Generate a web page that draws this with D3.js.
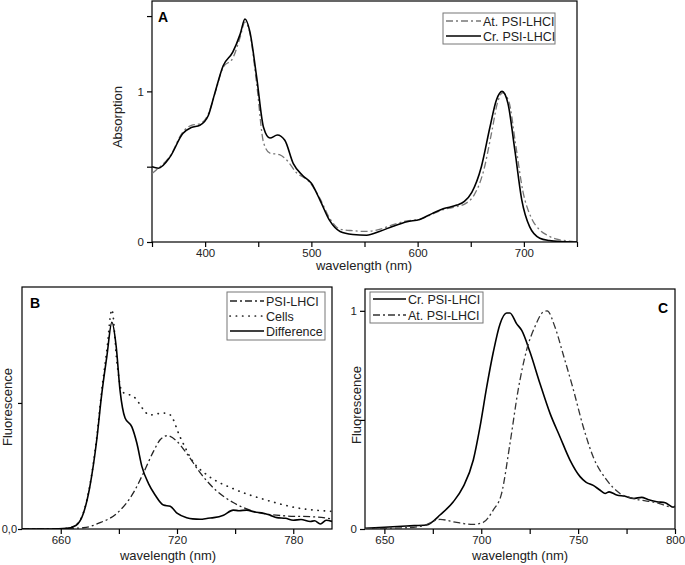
<!DOCTYPE html>
<html><head><meta charset="utf-8">
<script src="https://cdn.jsdelivr.net/npm/d3@7"></script>
<style>body{margin:0;background:#fff}svg{display:block;font-family:"Liberation Sans",Arial,sans-serif}</style>
</head><body><svg id="c" width="685" height="565"></svg>
<script>
// ---------- Panel A data (absorption) ----------
const aCrWl  = [350,356,367,379,387,395,403,409,417,426,433,437.5,442,448.5,455,461,468,475,483,492,500,508,517,527,539,552,564,577,590,602,614,624,637,644,651,660,668,674,679.5,685,691.5,698,705.5,715,724,735,750];
const aCrAbs = [0.50,0.49,0.565,0.72,0.76,0.775,0.84,0.985,1.17,1.26,1.38,1.48,1.40,1.095,0.76,0.69,0.71,0.675,0.52,0.44,0.39,0.28,0.145,0.07,0.05,0.045,0.07,0.105,0.135,0.15,0.19,0.22,0.245,0.27,0.33,0.50,0.76,0.94,1.00,0.92,0.61,0.28,0.10,0.025,0.01,0.003,0.0];
const aAtWl  = [350,356,367,379,387,395,403,409,417,426,433,437.5,442,448.5,455,461,470,476,486,498,508,517,527,539,552,567,577,590,602,614,624,637,645,653,662,670,675,680,686,692,699,707,715,722,730,740,750];
const aAtAbs = [0.455,0.49,0.57,0.73,0.775,0.785,0.85,0.98,1.16,1.22,1.36,1.46,1.39,1.05,0.66,0.59,0.58,0.55,0.46,0.40,0.29,0.16,0.085,0.075,0.07,0.09,0.115,0.14,0.15,0.185,0.215,0.235,0.255,0.31,0.47,0.74,0.92,0.99,0.93,0.66,0.34,0.16,0.08,0.045,0.02,0.008,0.0];
const aXTicks = [400,500,600,700];
const aXMinor = [350,450,550,650,750];
const aYTicks = [0,1];
const aYMinor = [0.5,1.5];

// ---------- Panel B data (fluorescence) ----------
const bDiffWl = [640,655,663,668,671.7,675,678.6,681,683.8,686.4,688.6,690.6,693.2,696.7,699.3,701.9,705.3,708.7,713,716.5,720,725,728,732,736,739,744,749,752,756,760,764.7,768,771.6,776,780,784,788.8,791,794,797,800];
const bDiff   = [0,0,0.005,0.03,0.125,0.335,0.71,1.05,1.37,1.64,1.45,1.10,0.88,0.81,0.68,0.495,0.36,0.27,0.19,0.18,0.125,0.09,0.08,0.077,0.085,0.09,0.11,0.15,0.145,0.15,0.135,0.125,0.11,0.09,0.085,0.07,0.075,0.06,0.065,0.04,0.07,0.06];
const bCellWl = [640,655,663,668,671.7,675,678.6,681,683.8,686.4,689,691.6,697.6,706,713,716.5,721.6,728.5,735.4,749,766,783,800];
const bCells  = [0,0,0.005,0.035,0.13,0.345,0.73,1.08,1.42,1.74,1.32,1.09,1.05,0.905,0.92,0.905,0.73,0.53,0.43,0.32,0.23,0.165,0.14];
const bPsiWl  = [640,650,662,671.7,680.3,689,697.6,702.7,708,711.4,714.9,720,725,732,740.6,749,759.6,775,792,800];
const bPsi    = [0,0,0.003,0.01,0.05,0.125,0.29,0.445,0.62,0.71,0.74,0.695,0.60,0.445,0.30,0.21,0.14,0.105,0.095,0.08];
const bXTicks = [660,720,780];
const bXMinor = [690,750];
const bYTicks = [0,1];
const bYLabels = ["0,0",""];

// ---------- Panel C data (normalised fluorescence) ----------
const cCrWl = [640,650,661.5,671.8,674.4,678.7,685.6,690.7,695.9,699.4,702.8,706.2,709.7,713.1,714.8,718.3,720.9,725.2,730.3,735.5,740.6,745.8,751,754,757.8,761,763.9,766,769.9,774,778.5,782.8,786,790.6,795,799,800];
const cCr   = [0.003,0.008,0.014,0.018,0.03,0.064,0.125,0.194,0.316,0.47,0.65,0.81,0.94,0.99,0.99,0.94,0.91,0.81,0.667,0.53,0.423,0.316,0.24,0.215,0.20,0.18,0.163,0.17,0.156,0.15,0.14,0.145,0.135,0.125,0.12,0.10,0.105];
const cAtWl = [640,660,670,678.7,687.3,695.9,701,706.2,710.5,714.8,719.1,723.4,727.7,732,734,738,742.3,747.5,752.6,757.8,764.7,771.6,778.5,790.6,799,800];
const cAt   = [0.002,0.005,0.015,0.044,0.03,0.021,0.03,0.087,0.163,0.39,0.64,0.82,0.927,0.995,1.0,0.927,0.80,0.64,0.47,0.33,0.225,0.163,0.14,0.12,0.10,0.10];
const cXTicks = [650,700,750,800];
const cXMinor = [675,725,775];
const cYTicks = [0,1];
const cYMinor = [0.5];

const svg = d3.select("#c");
const FONT = 11.5;

function panel(o){
  const g = svg.append("g");
  const x = d3.scaleLinear().domain(o.xd).range([o.l,o.r]);
  const y = d3.scaleLinear().domain(o.yd).range([o.b,o.t]);
  g.append("rect").attr("x",o.l).attr("y",o.t).attr("width",o.r-o.l).attr("height",o.b-o.t)
    .attr("fill","none").attr("stroke","#000").attr("stroke-width",1.2);
  const xa = g.append("g").attr("transform",`translate(0,${o.b})`)
    .call(d3.axisBottom(x).tickValues(o.xt).tickSize(5).tickPadding(2).tickFormat(d3.format("d")));
  xa.select(".domain").remove();
  xa.selectAll("text").attr("font-size",FONT).attr("font-family","Liberation Sans, Arial, sans-serif").attr("fill","#222");
  xa.selectAll("line").attr("stroke-width",1.2);
  const xm = g.append("g").attr("transform",`translate(0,${o.b})`)
    .call(d3.axisBottom(x).tickValues(o.xm).tickSize(5).tickFormat(""));
  xm.select(".domain").remove(); xm.selectAll("line").attr("stroke-width",1.2);
  const ya = g.append("g").attr("transform",`translate(${o.l},0)`)
    .call(d3.axisLeft(y).tickValues(o.yt).tickSize(o.yts||5).tickPadding(o.ytp||3).tickFormat((d,i)=>o.yl?o.yl[i]:d3.format("d")(d)));
  ya.select(".domain").remove();
  ya.selectAll("text").attr("font-size",o.yfs||FONT).attr("font-family","Liberation Sans, Arial, sans-serif").attr("fill","#222");
  ya.selectAll("line").attr("stroke-width",1.2);
  if(o.ym){
    const ymn = g.append("g").attr("transform",`translate(${o.l},0)`)
      .call(d3.axisLeft(y).tickValues(o.ym).tickSize(5).tickFormat(""));
    ymn.select(".domain").remove(); ymn.selectAll("line").attr("stroke-width",1.2);
  }
  g.append("text").attr("x",o.xtx).attr("y",o.xty).attr("text-anchor","middle")
    .attr("font-size",13).attr("fill","#222").text("wavelength (nm)");
  g.append("text").attr("transform",`translate(${o.ytx},${o.yty}) rotate(-90)`).attr("text-anchor","middle")
    .attr("font-size",13).attr("fill","#222").text(o.ytitle);
  g.append("text").attr("x",o.lbx).attr("y",o.lby).attr("font-size",14).attr("font-weight","bold").text(o.label);
  const clipId = "clip"+o.label;
  svg.append("clipPath").attr("id",clipId).append("rect")
    .attr("x",o.l).attr("y",o.t).attr("width",o.r-o.l).attr("height",o.b-o.t);
  o.series.forEach(s=>{
    const line = d3.line().x((d,i)=>x(s.xs[i])).y((d,i)=>y(s.ys[i])).curve(d3.curveMonotoneX);
    g.append("path").attr("clip-path",`url(#${clipId})`).attr("d",line(s.ys)).attr("fill","none")
      .attr("stroke",s.color).attr("stroke-width",s.w).attr("stroke-dasharray",s.dash||null)
      .attr("stroke-linecap",s.cap||"butt");
  });
  const L = o.legend;
  g.append("rect").attr("x",L.x).attr("y",L.y).attr("width",L.w).attr("height",L.h)
    .attr("fill","#fff").attr("stroke","#777").attr("stroke-width",1);
  L.items.forEach((it,i)=>{
    const yy = L.y + L.pad + i*L.dy;
    const s = o.series[it.si];
    g.append("line").attr("x1",L.x+3).attr("x2",L.x+3+L.len).attr("y1",yy).attr("y2",yy)
      .attr("stroke",s.color).attr("stroke-width",s.w).attr("stroke-dasharray",s.dash||null).attr("stroke-linecap",s.cap||"butt");
    g.append("text").attr("x",L.x+5+L.len).attr("y",yy+4.5).attr("font-size",12.5).attr("fill","#222").text(it.t);
  });
}

panel({l:152,r:577,t:1,b:242,xd:[350,750],yd:[0,1.6],xt:aXTicks,xm:aXMinor,yt:aYTicks,ym:aYMinor,
  xtx:364,xty:270,ytx:122,yty:117,ytitle:"Absorption",label:"A",lbx:158,lby:22,
  series:[{xs:aAtWl,ys:aAtAbs,color:"#777",w:1.3,dash:"7,3,2,3"},{xs:aCrWl,ys:aCrAbs,color:"#000",w:1.6}],
  legend:{x:443,y:13,w:112,h:31,pad:8,dy:15,len:35,items:[{si:0,t:"At. PSI-LHCI"},{si:1,t:"Cr. PSI-LHCI"}]}});

panel({l:22,r:332,t:287,b:529,xd:[640,800],yd:[0,1.92],xt:bXTicks,xm:bXMinor,yt:bYTicks,yl:bYLabels,yts:4,ytp:1,yfs:11,
  xtx:168,xty:560,ytx:12,yty:407,ytitle:"Fluorescence",label:"B",lbx:30,lby:308,
  series:[{xs:bPsiWl,ys:bPsi,color:"#222",w:1.3,dash:"7,3,2,3"},{xs:bCellWl,ys:bCells,color:"#222",w:1.7,dash:"0.3,6",cap:"round"},{xs:bDiffWl,ys:bDiff,color:"#000",w:1.6}],
  legend:{x:227,y:292,w:98,h:48,pad:9,dy:15,len:34,items:[{si:0,t:"PSI-LHCI"},{si:1,t:"Cells"},{si:2,t:"Difference"}]}});

panel({l:365,r:675,t:289,b:529,xd:[640,800],yd:[0,1.1],xt:cXTicks,xm:cXMinor,yt:cYTicks,ym:cYMinor,
  xtx:520,xty:560,ytx:361,yty:405,ytitle:"Fluorescence",label:"C",lbx:658,lby:313,
  series:[{xs:cCrWl,ys:cCr,color:"#000",w:1.6},{xs:cAtWl,ys:cAt,color:"#333",w:1.3,dash:"7,3,2,3"}],
  legend:{x:370,y:292,w:113,h:31,pad:7,dy:16,len:33,items:[{si:0,t:"Cr. PSI-LHCI"},{si:1,t:"At. PSI-LHCI"}]}});
</script></body></html>
